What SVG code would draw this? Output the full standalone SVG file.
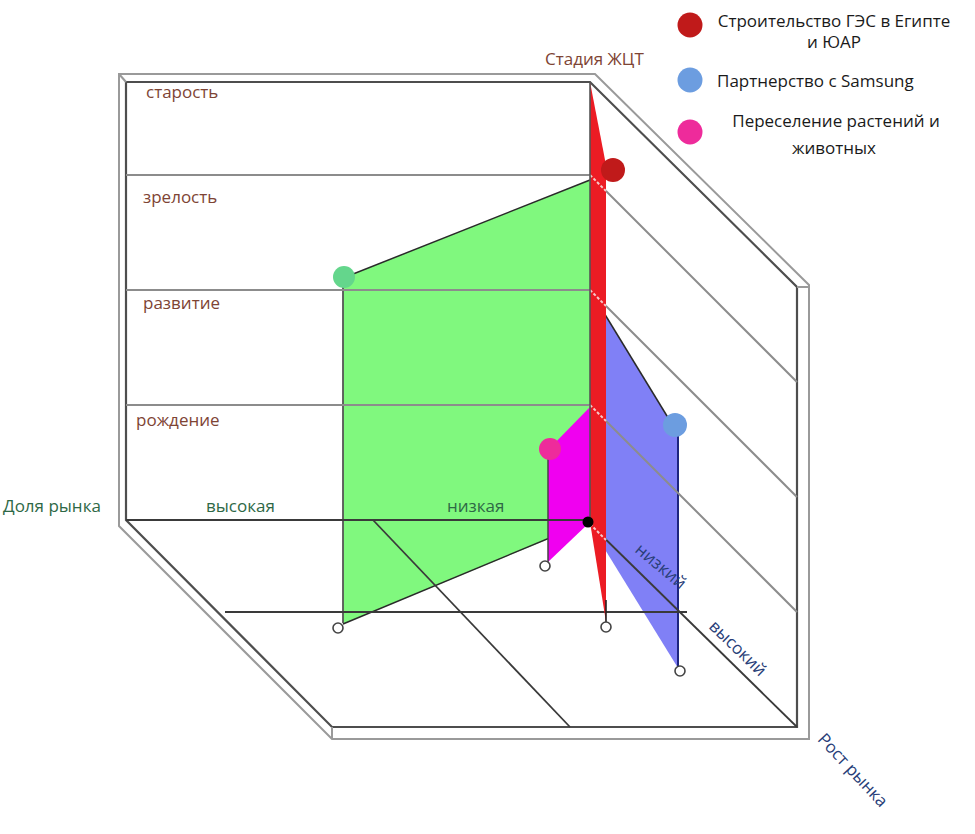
<svg xmlns="http://www.w3.org/2000/svg" width="975" height="834" viewBox="0 0 975 834">
<style>
text { font-family: "Open Sans", "Noto Sans", "Liberation Sans", sans-serif; font-size: 17px; }
.stage { fill: #7e4434; }
.share { fill: #2e6846; }
.growth { fill: #283e78; }
.legend { fill: #1a1a1a; }
.outer { fill: none; stroke: #9a9a9a; stroke-width: 2; stroke-linejoin: miter; }
.inner { fill: none; stroke: #4e4e4e; stroke-width: 2.2; stroke-linejoin: miter; }
.grid { stroke: #8c8c8c; stroke-width: 2; fill: none; }
.dark { stroke: #3a3a3a; stroke-width: 1.8; fill: none; }
.edge { stroke: #2a2a2a; stroke-width: 1.5; fill: none; }
.hidden { stroke: #f6c9c9; stroke-width: 2; stroke-dasharray: 3 2; fill: none; }
.foot { fill: #ffffff; stroke: #444; stroke-width: 1.6; }
</style>
<rect width="975" height="834" fill="#ffffff"/>

<g id="frame">
  <polygon class="outer" points="119,74 595,74 809,285 809,739 332,739 119,526"/>
  <polygon class="inner" points="126,82 590,82 797,287 797,727 332,727 126,520"/>
  <line class="outer" x1="119" y1="74" x2="126" y2="82"/>
  <line class="outer" x1="797" y1="287" x2="809" y2="287"/>
  <line class="outer" x1="332" y1="727" x2="332" y2="739"/>
</g>

<g id="planes">
  <g id="plane-samsung">
    <polygon points="590,290 678,434 678,668 588,522" fill="#8080f6"/>
    <line class="edge" x1="590" y1="290" x2="678" y2="434"/>
    <line x1="678" y1="434" x2="678" y2="668" stroke="#1e2680" stroke-width="2"/>
  </g>
  <g id="plane-hydro-green">
    <polygon points="343,278 590,180 590,522 343,624" fill="#80f87e"/>
    <line class="edge" x1="343" y1="278" x2="590" y2="180"/>
    <line x1="343" y1="278" x2="343" y2="623" stroke="#555" stroke-width="1.8"/>
    <line class="edge" x1="343" y1="624" x2="588" y2="522"/>
  </g>
  <g id="plane-relocation">
    <polygon points="548,450 590,407 590,522 548,562" fill="#f000f0"/>
    <line x1="548" y1="450" x2="548" y2="562" stroke="#444" stroke-width="1.5"/>
  </g>
</g>

<g id="connectors">
  <line class="grid" x1="126" y1="175" x2="590" y2="175"/>
  <line class="grid" x1="126" y1="290" x2="590" y2="290"/>
  <line class="grid" x1="126" y1="405" x2="590" y2="405"/>
  <line class="dark" x1="126" y1="520" x2="588" y2="520"/>
  <line class="grid" x1="590" y1="175" x2="797" y2="382"/>
  <line class="grid" x1="590" y1="290" x2="797" y2="497"/>
  <line class="grid" x1="590" y1="405" x2="797" y2="612"/>
  <line class="dark" x1="225" y1="612" x2="687" y2="612"/>
  <line class="dark" x1="373" y1="520" x2="570" y2="727"/>
  <line class="dark" x1="588" y1="522" x2="797" y2="727"/>
</g>

<g id="plane-hydro">
  <polygon points="590,82 606,165 606,622 590,522" fill="#ec1c24"/>
  <line class="hidden" x1="590" y1="175" x2="606" y2="191"/>
  <line class="hidden" x1="590" y1="290" x2="606" y2="306"/>
  <line class="hidden" x1="590" y1="405" x2="606" y2="421"/>
  <line class="hidden" x1="590" y1="524" x2="606" y2="540"/>
  <line x1="590" y1="82" x2="590" y2="522" stroke="#555" stroke-width="1.6"/>
  <line x1="606" y1="600" x2="606" y2="622" stroke="#222" stroke-width="1.6"/>
</g>

<g id="points">
  <circle cx="588" cy="522" r="5.5" fill="#000"/>
  <circle class="foot" cx="338" cy="628" r="5"/>
  <circle class="foot" cx="545" cy="566" r="5"/>
  <circle class="foot" cx="606" cy="627" r="5"/>
  <circle class="foot" cx="680" cy="671" r="5"/>
  <circle id="dot-green" cx="344" cy="277" r="11" fill="#64d68c"/>
  <circle id="dot-red" cx="613" cy="170" r="12" fill="#c01a1a"/>
  <circle id="dot-blue" cx="675" cy="425" r="12" fill="#6c9de0"/>
  <circle id="dot-pink" cx="550" cy="449" r="11" fill="#ee2b9b"/>
</g>

<g id="labels">
  <text class="stage" x="545" y="65">Стадия ЖЦТ</text>
  <text class="stage" x="146" y="98">старость</text>
  <text class="stage" x="143" y="203">зрелость</text>
  <text class="stage" x="143" y="309">развитие</text>
  <text class="stage" x="136" y="426">рождение</text>
  <text class="share" x="3" y="512">Доля рынка</text>
  <text class="share" x="206" y="512">высокая</text>
  <text class="share" x="447" y="512">низкая</text>
  <text class="growth" text-anchor="middle" transform="translate(661,566) rotate(40)" y="6">низкий</text>
  <text class="growth" text-anchor="middle" transform="translate(738,648) rotate(44)" y="6">высокий</text>
  <text class="growth" text-anchor="middle" transform="translate(853,770) rotate(47)" y="6">Рост рынка</text>
</g>

<g id="legend">
  <g id="legend-hydro">
    <circle cx="690" cy="25" r="12.5" fill="#c01a1a"/>
    <text class="legend" x="834" y="27" text-anchor="middle">Строительство ГЭС в Египте</text>
    <text class="legend" x="834" y="48" text-anchor="middle">и ЮАР</text>
  </g>
  <g id="legend-samsung">
    <circle cx="690" cy="80" r="12.5" fill="#6c9de0"/>
    <text class="legend" x="717" y="87">Партнерство с Samsung</text>
  </g>
  <g id="legend-relocation">
    <circle cx="690" cy="132" r="12.5" fill="#ee2b9b"/>
    <text class="legend" x="836" y="127" text-anchor="middle">Переселение растений и</text>
    <text class="legend" x="834" y="154" text-anchor="middle">животных</text>
  </g>
</g>
</svg>
